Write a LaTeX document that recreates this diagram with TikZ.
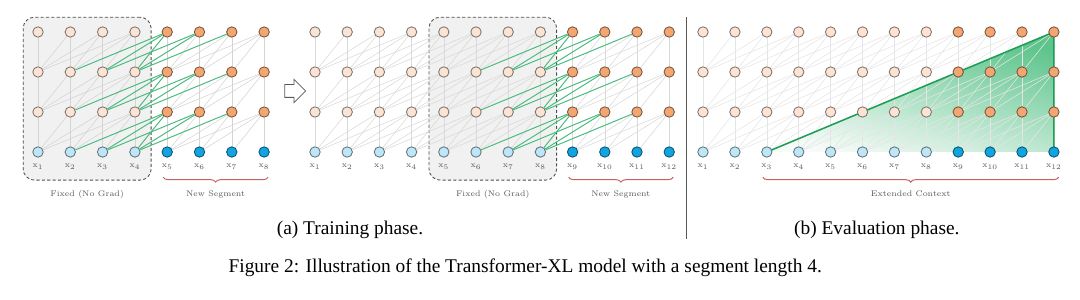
\documentclass[tikz,border=0pt]{standalone}
\usepackage{fontspec}
\newfontfamily\capfont{Liberation Serif}
\usepackage{tikz}
\usetikzlibrary{arrows.meta,positioning,shapes.arrows,fit,calc,decorations.pathreplacing}
\definecolor{hold}{HTML}{FBE4D3}
\definecolor{hnew}{HTML}{F2A772}
\definecolor{xold}{HTML}{BFE6F6}
\definecolor{xnew}{HTML}{12A4DF}
\definecolor{memg}{HTML}{45BC7C}
\definecolor{ctxg}{HTML}{1E9E55}
\definecolor{ctxf}{HTML}{5DC48C}
\definecolor{segc}{HTML}{C4625E}
\definecolor{frz}{HTML}{F1F1F1}
\pgfdeclarelayer{back}
\pgfdeclarelayer{edges}
\pgfsetlayers{back,edges,main}
\tikzset{
  cell/.style={circle,draw=#1!50!black,fill=#1,line width=0.6pt,minimum size=7.4pt,inner sep=0pt},
  cell/.default=hold,
  att/.style={draw=black!#1,line width=0.4pt},
  att/.default=17,
  mem/.style={draw=memg,line width=0.65pt},
  lbl/.style={font=\fontsize{5.8}{7}\selectfont,text=black!65,inner sep=1pt},
  frozen/.style={draw=black!70,fill=frz,dash pattern=on 2.2pt off 1.6pt,rounded corners=8pt,line width=0.6pt,inner sep=0.23cm},
  seg/.style={draw=segc,line width=0.7pt,decorate,decoration={brace,mirror,amplitude=3.5pt}},
  capt/.style={font=\capfont\fontsize{13.8}{16}\selectfont,inner sep=0pt},
}
\begin{document}
\begin{tikzpicture}
  \useasboundingbox (0,0) rectangle (27,7.475);

  % (a) training: first segment pair
  \foreach \i/\c in {1/old,2/old,3/old,4/old,5/new,6/new,7/new,8/new}{
    \node[cell=x\c] (a-0-\i) at ({0.95+0.8075*(\i-1)},3.675) {};
    \foreach \r in {1,2,3}
      \node[cell=h\c] (a-\r-\i) at ({0.95+0.8075*(\i-1)},{3.675+\r}) {};
    \node[lbl,below=0.12cm of a-0-\i] (a-l-\i) {$\mathrm{x}_{\i}$};
  }
  \begin{pgfonlayer}{edges}
    \foreach \i in {1,...,8}
      \foreach \r in {1,2,3}
        \foreach \k in {0,...,3}{
          \pgfmathtruncatemacro\j{\i-\k}
          \pgfmathtruncatemacro\q{\r-1}
          \ifnum\j>0 \draw[att] (a-\r-\i) -- (a-\q-\j);\fi
        }
    \foreach \i/\j in {5/2,5/3,5/4,6/3,6/4,7/4}
      \foreach \r in {1,2,3}{
        \pgfmathtruncatemacro\q{\r-1}
        \draw[mem] (a-\r-\i) -- (a-\q-\j);
      }
  \end{pgfonlayer}
  \begin{pgfonlayer}{back}
    \node[frozen,fit=(a-3-1)(a-3-4)(a-l-4)] (a-fix) {};
  \end{pgfonlayer}
  \node[lbl,below=0.2cm of a-fix] (a-fixl) {Fixed (No Grad)};
  \draw[seg] ($(a-0-5)+(-0.1,-0.63)$) -- ($(a-0-8)+(0.1,-0.63)$)
    node[lbl,midway,below=0.28cm] (a-segl) {New Segment};

  \node[single arrow,draw=black!65,fill=white,line width=0.6pt,minimum height=0.52cm,
        minimum width=0pt,inner xsep=0pt,inner ysep=0.15cm,single arrow head extend=0.13cm] (go) at (7.3,5.2) {};

  % (a) training: next segment pair
  \foreach \i/\c in {1/old,2/old,3/old,4/old,5/old,6/old,7/old,8/old,9/new,10/new,11/new,12/new}{
    \node[cell=x\c] (m-0-\i) at ({7.875+0.805*(\i-1)},3.675) {};
    \foreach \r in {1,2,3}
      \node[cell=h\c] (m-\r-\i) at ({7.875+0.805*(\i-1)},{3.675+\r}) {};
    \node[lbl,below=0.12cm of m-0-\i] (m-l-\i) {$\mathrm{x}_{\i}$};
  }
  \begin{pgfonlayer}{edges}
    \foreach \i in {1,...,12}
      \foreach \r in {1,2,3}
        \foreach \k in {0,...,3}{
          \pgfmathtruncatemacro\j{\i-\k}
          \pgfmathtruncatemacro\q{\r-1}
          \ifnum\j>0 \draw[att=15] (m-\r-\i) -- (m-\q-\j);\fi
        }
    \foreach \i/\j in {9/6,9/7,9/8,10/7,10/8,11/8}
      \foreach \r in {1,2,3}{
        \pgfmathtruncatemacro\q{\r-1}
        \draw[mem] (m-\r-\i) -- (m-\q-\j);
      }
  \end{pgfonlayer}
  \begin{pgfonlayer}{back}
    \node[frozen,fit=(m-3-5)(m-3-8)(m-l-8)] (m-fix) {};
  \end{pgfonlayer}
  \node[lbl,below=0.2cm of m-fix] (m-fixl) {Fixed (No Grad)};
  \draw[seg] ($(m-0-9)+(-0.1,-0.63)$) -- ($(m-0-12)+(0.1,-0.63)$)
    node[lbl,midway,below=0.28cm] (m-segl) {New Segment};

  \draw[black!65,line width=0.9pt] (17.16,1.5) -- (17.16,7.05);

  % (b) evaluation
  \foreach \i/\c in {1/old,2/old,3/old,4/old,5/old,6/old,7/old,8/old,9/new,10/new,11/new,12/new}{
    \node[cell=x\c] (b-0-\i) at ({17.575+0.7975*(\i-1)},3.675) {};
    \foreach \r in {1,2,3}
      \node[cell=h\c] (b-\r-\i) at ({17.575+0.7975*(\i-1)},{3.675+\r}) {};
    \node[lbl,below=0.12cm of b-0-\i] (b-l-\i) {$\mathrm{x}_{\i}$};
  }
  \begin{pgfonlayer}{edges}
    \foreach \i in {1,...,12}
      \foreach \r in {1,2,3}
        \foreach \k in {0,...,3}{
          \pgfmathtruncatemacro\j{\i-\k}
          \pgfmathtruncatemacro\q{\r-1}
          \ifnum\j>0 \draw[att=10] (b-\r-\i) -- (b-\q-\j);\fi
        }
    \draw[ctxg,line width=1.1pt,line join=round] (b-0-3.center) -- (b-3-12.center) -- (b-0-12.center);
  \end{pgfonlayer}
  \begin{pgfonlayer}{back}
    \shade[shading=axis,top color=ctxf,bottom color=ctxf!6,shading angle=-15]
      (b-0-3.center) -- (b-3-12.center) -- (b-0-12.center) -- cycle;
  \end{pgfonlayer}
  \draw[seg] ($(b-0-3)+(-0.1,-0.63)$) -- ($(b-0-12)+(0.12,-0.63)$)
    node[lbl,midway,below=0.28cm] (b-segl) {Extended Context};

  \node[capt] (capa) at (8.75,1.72) {(a) Training phase.};
  \node[capt] (capb) at (21.92,1.72) {(b) Evaluation phase.};
  \node[capt] (fig) at (13.13,0.78) {Figure 2: Illustration of the Transformer-XL model with a segment length 4.};
\end{tikzpicture}
\end{document}
